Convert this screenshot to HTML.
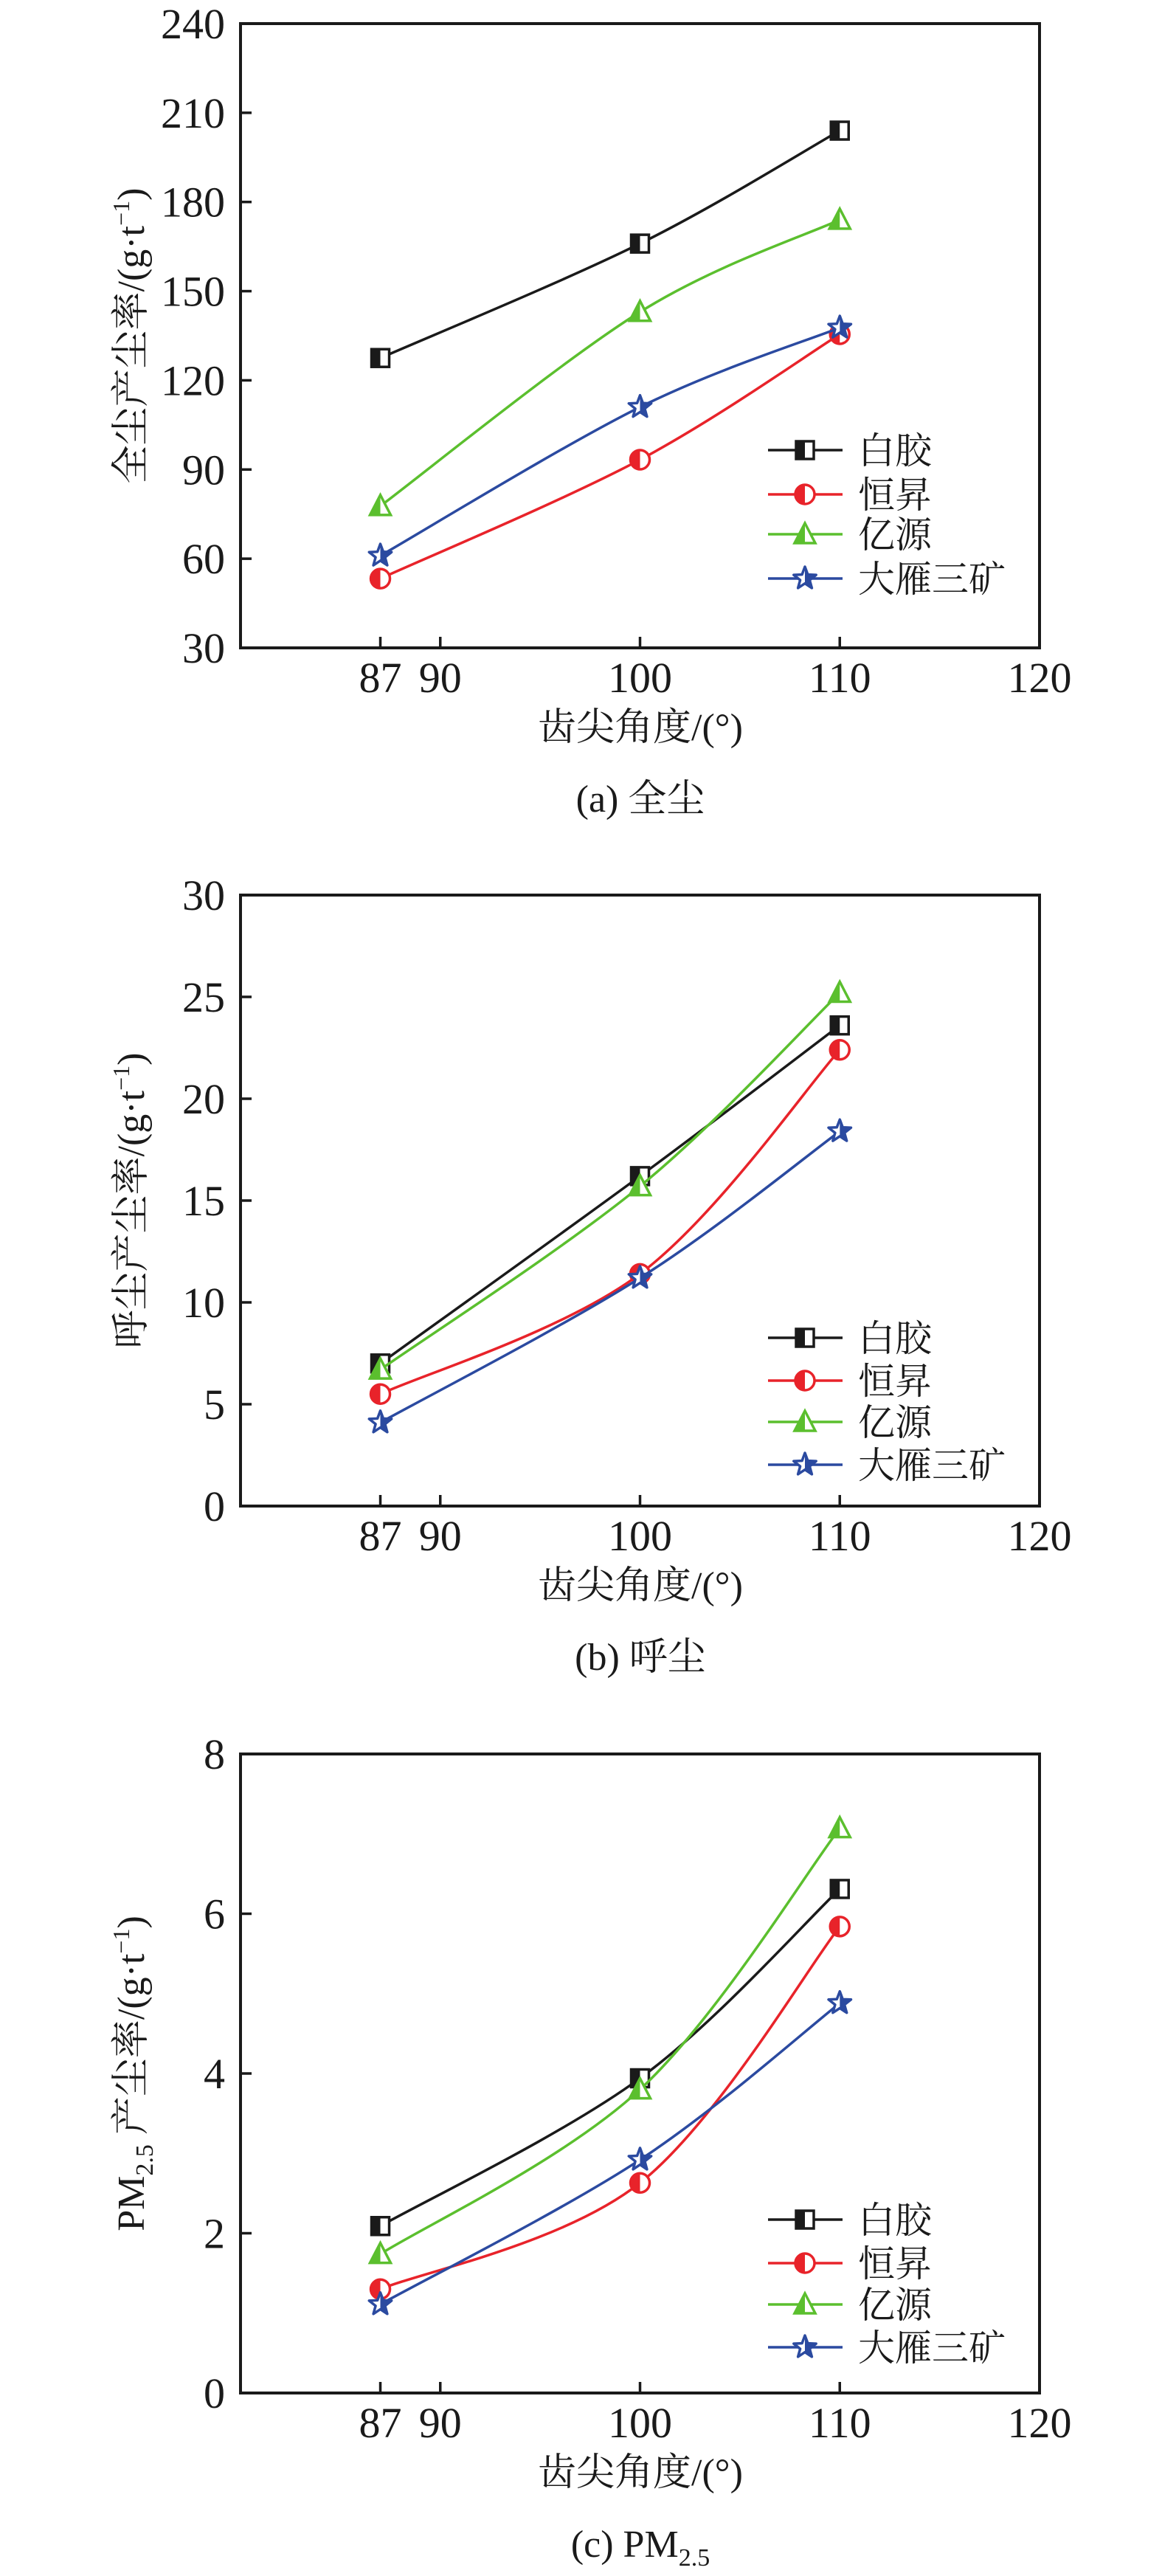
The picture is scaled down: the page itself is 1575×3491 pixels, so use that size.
<!DOCTYPE html>
<html><head><meta charset="utf-8">
<style>
html,body{margin:0;padding:0;background:#fff;}
svg{display:block;}
text{font-family:"Liberation Serif","Noto Serif CJK SC","Noto Sans CJK SC",serif;fill:#1a1a1a;}
</style></head>
<body>
<svg id="fig" width="1575" height="3491" viewBox="0 0 1575 3491" xmlns="http://www.w3.org/2000/svg"></svg>
<script>
const angles = [87, 100, 110];
const xTicks = [87, 90, 100, 110, 120];
const seriesNames = ["白胶", "恒昇", "亿源", "大雁三矿"];
const colors = ["#1a1a1a", "#e8232a", "#5bbf2e", "#2b4aa0"];

const totalBaijiao = [127.5, 166, 204];
const totalHengsheng = [53.3, 93.3, 135.5];
const totalYiyuan = [77.7, 143, 174];
const totalDayan = [61, 111, 137.7];
const totalYTicks = [30, 60, 90, 120, 150, 180, 210, 240];

const respBaijiao = [7.0, 16.2, 23.6];
const respHengsheng = [5.5, 11.4, 22.4];
const respYiyuan = [6.7, 15.7, 25.2];
const respDayan = [4.1, 11.2, 18.4];
const respYTicks = [0, 5, 10, 15, 20, 25, 30];

const pmBaijiao = [2.09, 3.94, 6.31];
const pmHengsheng = [1.30, 2.63, 5.84];
const pmYiyuan = [1.74, 3.80, 7.07];
const pmDayan = [1.11, 2.92, 4.88];
const pmYTicks = [0, 2, 4, 6, 8];

const NS = "http://www.w3.org/2000/svg";
const svg = document.getElementById("fig");
function mk(tag, attrs, parent) {
  const e = document.createElementNS(NS, tag);
  for (const k in attrs) e.setAttribute(k, attrs[k]);
  (parent || svg).appendChild(e);
  return e;
}

function spline(pts) {
  let d = "M" + pts[0][0] + "," + pts[0][1];
  for (let i = 0; i < pts.length - 1; i++) {
    const p0 = pts[Math.max(0, i - 1)], p1 = pts[i], p2 = pts[i + 1], p3 = pts[Math.min(pts.length - 1, i + 2)];
    const c1 = [p1[0] + (p2[0] - p0[0]) / 6, p1[1] + (p2[1] - p0[1]) / 6];
    const c2 = [p2[0] - (p3[0] - p1[0]) / 6, p2[1] - (p3[1] - p1[1]) / 6];
    d += " C" + c1[0] + "," + c1[1] + " " + c2[0] + "," + c2[1] + " " + p2[0] + "," + p2[1];
  }
  return d;
}

function marker(g, type, cx, cy, col) {
  const s = 12;
  if (type === 0) {
    const r = mk("rect", {x: cx - s, y: cy - s, width: 2 * s, height: 2 * s, fill: "#fff", stroke: col, "stroke-width": 3.5}, g);
    
    
    mk("rect", {x: cx - s, y: cy - s, width: s, height: 2 * s, fill: col}, g);
  } else if (type === 1) {
    const c = mk("circle", {cx: cx, cy: cy, r: s + 1, fill: "#fff", stroke: col, "stroke-width": 3.5}, g);
    
    
    mk("path", {d: `M${cx},${cy - s - 1} A${s + 1},${s + 1} 0 0 0 ${cx},${cy + s + 1} Z`, fill: col}, g);
  } else if (type === 2) {
    const t = mk("polygon", {points: `${cx},${cy - s - 3} ${cx + s + 2},${cy + s} ${cx - s - 2},${cy + s}`, fill: "#fff", stroke: col, "stroke-width": 3.5}, g);
    
    
    mk("polygon", {points: `${cx},${cy - s - 3} ${cx},${cy + s} ${cx - s - 2},${cy + s}`, fill: col}, g);
  } else {
    let p = [], half = [];
    for (let i = 0; i < 10; i++) {
      const a = -Math.PI / 2 + i * Math.PI / 5;
      const r = i % 2 === 0 ? s + 4 : (s + 4) * 0.42;
      const px = cx + r * Math.cos(a), py = cy + r * Math.sin(a);
      p.push(px.toFixed(1) + "," + py.toFixed(1));
      if (i <= 5) half.push(px.toFixed(1) + "," + py.toFixed(1));
    }
    const st = mk("polygon", {points: p.join(" "), fill: "#fff", stroke: col, "stroke-width": 3.5, "stroke-linejoin": "round"}, g);
    
    
    mk("polygon", {points: half.join(" "), fill: col}, g);
  }
}

function drawChart(cfg) {
  const L = 326, R = 1409, T = cfg.top, B = cfg.bottom;
  const yMin = cfg.yTicks[0], yMax = cfg.yTicks[cfg.yTicks.length - 1];
  const xScale = v => L + (v - 80) / 40 * (R - L);
  const yScale = v => B - (v - yMin) / (yMax - yMin) * (B - T);
  const g = mk("g", {});
  
  

  const frame = mk("rect", {x: L, y: T, width: R - L, height: B - T, fill: "none", stroke: "#1a1a1a", "stroke-width": 4}, g);
  
  

  cfg.yTicks.forEach(v => {
    const y = yScale(v);
    mk("line", {x1: L, x2: L + 15, y1: y, y2: y, stroke: "#1a1a1a", "stroke-width": 3.5}, g);
    const t = mk("text", {x: 305, y: y + 20, "text-anchor": "end", "font-size": 58}, g);
    
    
    t.textContent = v;
  });
  xTicks.forEach(v => {
    const x = xScale(v);
    if (v < 120) mk("line", {x1: x, x2: x, y1: B, y2: B - 15, stroke: "#1a1a1a", "stroke-width": 3.5}, g);
    const t = mk("text", {x: x, y: B + 60, "text-anchor": "middle", "font-size": 58}, g);
    
    
    t.textContent = v;
  });

  const xt = mk("text", {x: 868, y: B + 125, "text-anchor": "middle", "font-size": 52}, g);
  
  
  xt.textContent = "齿尖角度/(°)";

  const yt = mk("text", {x: 0, y: 0, "text-anchor": "middle", "font-size": 52, transform: `translate(195,${(T + B) / 2}) rotate(-90)`}, g);
  
  
  yt.innerHTML = cfg.yTitle;

  const cap = mk("text", {x: 868, y: B + 222, "text-anchor": "middle", "font-size": 52}, g);
  
  
  cap.innerHTML = cfg.caption;

  cfg.series.forEach((vals, i) => {
    const pts = angles.map((a, j) => [xScale(a), yScale(vals[j])]);
    const sg = mk("g", {}, g);
    
    
    const p = mk("path", {d: spline(pts), fill: "none", stroke: colors[i], "stroke-width": 3.5}, sg);
    
    
    pts.forEach(pt => marker(sg, i, pt[0], pt[1], colors[i]));
  });

  cfg.legendY.forEach((off, i) => {
    const y = B - off;
    const lg = mk("g", {}, g);
    
    
    mk("line", {x1: 1041, x2: 1142, y1: y, y2: y, stroke: colors[i], "stroke-width": 3.5}, lg);
    marker(lg, i, 1091, y, colors[i]);
    const t = mk("text", {x: 1163, y: y + 18, "font-size": 50}, lg);
    t.textContent = seriesNames[i];
  });
}

drawChart({name: "chart-total-dust", top: 32, bottom: 878, yTicks: totalYTicks,
  series: [totalBaijiao, totalHengsheng, totalYiyuan, totalDayan],
  yTitle: '全尘产尘率/(g·t<tspan dy="-20" font-size="32">−1</tspan><tspan dy="20">)</tspan>',
  caption: "(a) 全尘", legendY: [268, 208, 154, 94]});
drawChart({name: "chart-respirable-dust", top: 1213, bottom: 2041, yTicks: respYTicks,
  series: [respBaijiao, respHengsheng, respYiyuan, respDayan],
  yTitle: '呼尘产尘率/(g·t<tspan dy="-20" font-size="32">−1</tspan><tspan dy="20">)</tspan>',
  caption: "(b) 呼尘", legendY: [228, 170, 114, 56]});
drawChart({name: "chart-pm25", top: 2377, bottom: 3243, yTicks: pmYTicks,
  series: [pmBaijiao, pmHengsheng, pmYiyuan, pmDayan],
  yTitle: 'PM<tspan dy="12" font-size="34">2.5</tspan><tspan dy="-12"> 产尘率/(g·t</tspan><tspan dy="-20" font-size="32">−1</tspan><tspan dy="20">)</tspan>',
  caption: '(c) PM<tspan dy="12" font-size="34">2.5</tspan>', legendY: [235, 176, 120, 62]});
</script>
</body></html>
